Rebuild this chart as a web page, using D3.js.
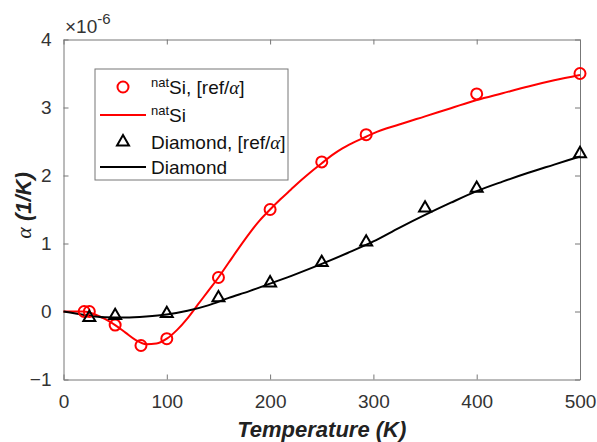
<!DOCTYPE html>
<html>
<head>
<meta charset="utf-8">
<script src="https://cdn.jsdelivr.net/npm/d3@7"></script>
<style>
  body { margin: 0; background: #fff; }
  text { font-family: "Liberation Sans", Arial, sans-serif; }
</style>
</head>
<body>
<div id="chart"></div>
<script>
// measured points (x 1e-6 1/K)
const siT = [20, 25, 50, 75, 100, 150, 200, 250, 293, 400, 500];
const siA = [0, 0, -0.2, -0.5, -0.4, 0.5, 1.5, 2.2, 2.6, 3.2, 3.5];
const diaT = [25, 50, 100, 150, 200, 250, 293, 350, 400, 500];
const diaA = [-0.09, -0.06, -0.03, 0.2, 0.42, 0.72, 1.02, 1.52, 1.81, 2.32];

// fitted curves
const siCurveT = [0, 10, 20, 30, 40, 50, 60, 70, 80, 90, 100, 110, 120, 130, 140, 150, 160, 170, 180, 190, 200, 210, 220, 230, 240, 250, 260, 270, 280, 293, 300, 325, 350, 375, 400, 425, 450, 475, 500];
const siCurveA = [0, 0, 0, -0.04, -0.11, -0.2, -0.31, -0.42, -0.48, -0.47, -0.4, -0.27, -0.1, 0.1, 0.3, 0.5, 0.72, 0.94, 1.15, 1.34, 1.5, 1.65, 1.79, 1.93, 2.06, 2.18, 2.3, 2.4, 2.48, 2.57, 2.62, 2.75, 2.87, 2.99, 3.11, 3.21, 3.31, 3.4, 3.48];
const diaCurveT = [0, 20, 40, 60, 80, 100, 120, 140, 160, 180, 200, 225, 250, 275, 300, 325, 350, 375, 400, 425, 450, 475, 500];
const diaCurveA = [0, -0.05, -0.085, -0.09, -0.075, -0.045, 0.01, 0.09, 0.2, 0.3, 0.41, 0.55, 0.7, 0.86, 1.03, 1.23, 1.42, 1.6, 1.77, 1.91, 2.04, 2.16, 2.28];

const xTicks = [0, 100, 200, 300, 400, 500];
const yTicks = [-1, 0, 1, 2, 3, 4];

const svg = d3.select("#chart").append("svg")
  .attr("width", 597)
  .attr("height", 442);

const margin = {top: 39.5, right: 17, bottom: 62.5, left: 63.5};
const width = 597 - margin.left - margin.right;
const height = 442 - margin.top - margin.bottom;

const x = d3.scaleLinear().domain([0, 500]).range([0, width]);
const y = d3.scaleLinear().domain([-1, 4]).range([height, 0]);

const g = svg.append("g")
  .attr("transform", "translate(" + margin.left + "," + margin.top + ")");

const axisColor = "#777";
const labelColor = "#333";
const fmt = d3.format("d");

// axes with inward ticks, on all four sides
g.append("g")
  .attr("transform", "translate(0," + height + ")")
  .call(d3.axisBottom(x).tickValues(xTicks).tickFormat(fmt).tickSizeInner(-5).tickSizeOuter(0).tickPadding(15));
g.append("g")
  .call(d3.axisTop(x).tickValues(xTicks).tickSizeInner(-5).tickSizeOuter(0).tickFormat(""));
g.append("g")
  .call(d3.axisLeft(y).tickValues(yTicks).tickFormat(fmt).tickSizeInner(-5).tickSizeOuter(0).tickPadding(12));
g.append("g")
  .attr("transform", "translate(" + width + ",0)")
  .call(d3.axisRight(y).tickValues(yTicks).tickSizeInner(-5).tickSizeOuter(0).tickFormat(""));

g.selectAll(".domain").attr("stroke", axisColor).attr("stroke-width", 1);
g.selectAll(".tick line").attr("stroke", axisColor);
g.selectAll(".tick text")
  .attr("fill", labelColor)
  .style("font-size", "19px")
  .style("font-family", "'Liberation Sans', Arial, sans-serif");

// exponent label
const expo = svg.append("text")
  .attr("x", 65).attr("y", 33)
  .attr("fill", labelColor)
  .style("font-size", "19px");
expo.append("tspan").text("\u00d710");
expo.append("tspan").attr("dy", -9).style("font-size", "15px").text("-6");

// axis titles
svg.append("text")
  .attr("x", margin.left + width / 2).attr("y", 437)
  .attr("text-anchor", "middle")
  .attr("fill", "#222")
  .style("font-size", "22px").style("font-weight", "bold").style("font-style", "italic")
  .text("Temperature (K)");

const yl = svg.append("text")
  .attr("transform", "translate(31," + (margin.top + height / 2 - 4) + ") rotate(-90)")
  .attr("text-anchor", "middle")
  .attr("fill", "#222")
  .style("font-size", "22px").style("font-weight", "bold").style("font-style", "italic");
yl.append("tspan").style("font-family", "'Liberation Serif', serif").style("font-weight", "normal").text("\u03b1");
yl.append("tspan").text(" (1/K)");

// curves
const line = d3.line()
  .curve(d3.curveMonotoneX)
  .x(d => x(d[0]))
  .y(d => y(d[1]));

g.append("path")
  .datum(siCurveT.map((t, i) => [t, siCurveA[i]]))
  .attr("fill", "none").attr("stroke", "#ff0000").attr("stroke-width", 2)
  .attr("d", line);
g.append("path")
  .datum(diaCurveT.map((t, i) => [t, diaCurveA[i]]))
  .attr("fill", "none").attr("stroke", "#000").attr("stroke-width", 2)
  .attr("d", line);

// markers
const tri = d3.symbol().type(d3.symbolTriangle).size(62);

g.selectAll(".si").data(siT.map((t, i) => [t, siA[i]])).enter()
  .append("circle")
  .attr("cx", d => x(d[0])).attr("cy", d => y(d[1]))
  .attr("r", 5.5)
  .attr("fill", "none").attr("stroke", "#ff0000").attr("stroke-width", 2);

g.selectAll(".dia").data(diaT.map((t, i) => [t, diaA[i]])).enter()
  .append("path")
  .attr("transform", d => "translate(" + x(d[0]) + "," + y(d[1]) + ")")
  .attr("d", tri)
  .attr("fill", "none").attr("stroke", "#000").attr("stroke-width", 2);

// legend
const leg = svg.append("g").attr("transform", "translate(95,69)");
leg.append("rect")
  .attr("width", 193).attr("height", 111)
  .attr("fill", "#fff").attr("stroke", axisColor).attr("stroke-width", 1);

const rows = [
  {sup: "nat", txt: "Si, [ref/", alpha: true, kind: "circle", color: "#ff0000"},
  {sup: "nat", txt: "Si", alpha: false, kind: "line", color: "#ff0000"},
  {sup: "", txt: "Diamond, [ref/", alpha: true, kind: "tri", color: "#000"},
  {sup: "", txt: "Diamond", alpha: false, kind: "line", color: "#000"}
];
const rowY = [18, 46, 73, 98];

rows.forEach((r, i) => {
  const ry = rowY[i];
  if (r.kind === "circle") {
    leg.append("circle").attr("cx", 28).attr("cy", ry).attr("r", 5.5)
      .attr("fill", "none").attr("stroke", r.color).attr("stroke-width", 2);
  } else if (r.kind === "tri") {
    leg.append("path").attr("transform", "translate(28," + ry + ")").attr("d", tri)
      .attr("fill", "none").attr("stroke", r.color).attr("stroke-width", 2);
  } else {
    leg.append("line").attr("x1", 5).attr("x2", 51).attr("y1", ry).attr("y2", ry)
      .attr("stroke", r.color).attr("stroke-width", 2);
  }
  const t = leg.append("text").attr("x", 56).attr("y", ry + 7)
    .attr("fill", "#111").style("font-size", "19px");
  if (r.sup) {
    t.append("tspan").attr("dy", -7).style("font-size", "13px").text(r.sup);
    t.append("tspan").attr("dy", 7).text(r.txt);
  } else {
    t.append("tspan").text(r.txt);
  }
  if (r.alpha) {
    t.append("tspan").style("font-family", "'Liberation Serif', serif").style("font-style", "italic").text("\u03b1");
    t.append("tspan").text("]");
  }
});
</script>
</body>
</html>
